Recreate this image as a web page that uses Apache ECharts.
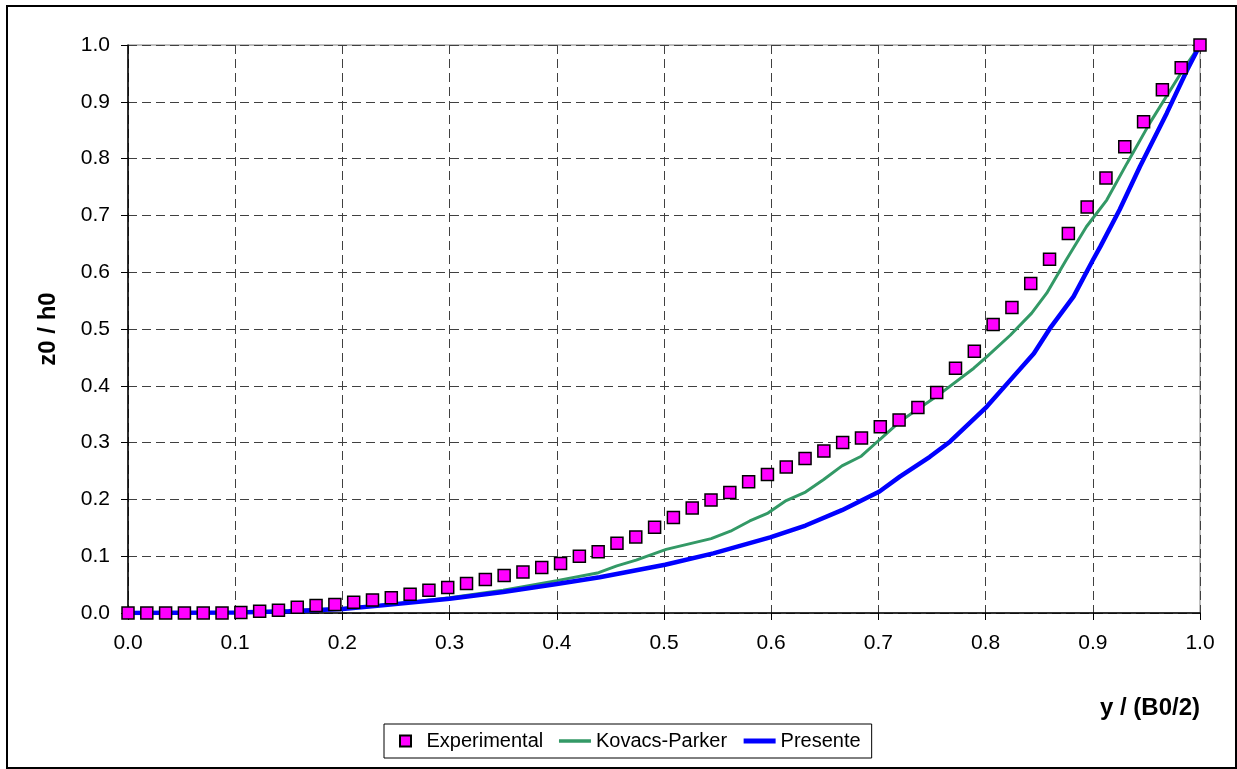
<!DOCTYPE html>
<html>
<head>
<meta charset="utf-8">
<title>z0 / h0 vs y / (B0/2)</title>
<script src="https://cdn.jsdelivr.net/npm/echarts@6/dist/echarts.min.js"></script>
<style>
  html, body { margin: 0; padding: 0; background: #fff; }
  #chart { width: 1237px; height: 769px; }
</style>
</head>
<body>
<div id="chart"></div>
<script>
// Experimental profile: 58 equally spaced stations across the half-width
const expPointCount = 58;
const expZ = [
  0.000, 0.000, 0.000, 0.000, 0.000, 0.000, 0.001, 0.003, 0.005, 0.010,
  0.013, 0.015, 0.019, 0.023, 0.027, 0.033, 0.040, 0.045, 0.052, 0.059,
  0.066, 0.072, 0.080, 0.087, 0.100, 0.108, 0.123, 0.134, 0.151, 0.168,
  0.185, 0.199, 0.212, 0.231, 0.244, 0.257, 0.272, 0.285, 0.300, 0.308,
  0.328, 0.340, 0.362, 0.388, 0.431, 0.461, 0.508, 0.538, 0.580, 0.623,
  0.668, 0.715, 0.766, 0.821, 0.865, 0.921, 0.960, 1.000
];

// Kovacs-Parker profile
const kpY = [0, 0.10, 0.15, 0.20, 0.25, 0.30, 0.35, 0.40, 0.439, 0.456, 0.474, 0.502, 0.544,
  0.562, 0.580, 0.597, 0.614, 0.632, 0.649, 0.666, 0.684, 0.701, 0.720, 0.754, 0.789,
  0.801, 0.823, 0.843, 0.857, 0.875, 0.894, 0.913, 0.932, 0.953, 0.983, 1.0];
const kpZ = [0, 0.001, 0.004, 0.008, 0.016, 0.027, 0.040, 0.057, 0.071, 0.083, 0.093, 0.112, 0.131,
  0.144, 0.162, 0.176, 0.198, 0.213, 0.235, 0.259, 0.276, 0.305, 0.337, 0.381, 0.431,
  0.451, 0.489, 0.528, 0.563, 0.621, 0.680, 0.727, 0.792, 0.862, 0.953, 1.0];

// Present model profile
const prY = [0, 0.10, 0.15, 0.20, 0.235, 0.30, 0.35, 0.40, 0.44, 0.501, 0.546, 0.599, 0.632,
  0.666, 0.701, 0.720, 0.748, 0.767, 0.801, 0.823, 0.845, 0.860, 0.882, 0.900, 0.907,
  0.925, 0.944, 0.969, 0.988, 1.0];
const prZ = [0, 0.001, 0.003, 0.007, 0.013, 0.025, 0.037, 0.051, 0.063, 0.085, 0.105, 0.133, 0.154,
  0.181, 0.214, 0.240, 0.275, 0.302, 0.363, 0.410, 0.457, 0.501, 0.557, 0.621, 0.645,
  0.710, 0.786, 0.880, 0.956, 1.0];

const seriesNames = ['Experimental', 'Kovacs-Parker', 'Presente'];
const xTitle = 'y / (B0/2)';
const yTitle = 'z0 / h0';

const zip = (xs, ys) => xs.map((x, i) => [x, ys[i]]);
const expData = expZ.map((z, i) => [i / (expPointCount - 1), z]);

const FONT = '"Liberation Sans", Arial, sans-serif';
const gridLine = { show: true, lineStyle: { color: '#404040', width: 1, type: [9, 5] } };
const squareIcon = 'path://M0,0H10V10H0Z';
// legend entries of the line series show the stroke only
const hiddenMarker = { opacity: 0 };

const chart = echarts.init(document.getElementById('chart'), null, { renderer: 'canvas' });
chart.setOption({
  animation: false,
  backgroundColor: '#fff',
  grid: {
    left: 128, right: 37, top: 45, bottom: 156,
    show: true, borderColor: '#808080', borderWidth: 1, backgroundColor: 'transparent'
  },
  xAxis: {
    type: 'value', min: 0, max: 1, interval: 0.1,
    axisLine: { show: true, onZero: false, lineStyle: { color: '#000', width: 1.5 } },
    axisTick: { show: true, inside: false, length: 7, lineStyle: { color: '#000', width: 1 } },
    axisLabel: { margin: 20, fontSize: 21, color: '#000', fontFamily: FONT,
      formatter: v => v.toFixed(1) },
    splitLine: gridLine
  },
  yAxis: {
    type: 'value', min: 0, max: 1, interval: 0.1,
    name: yTitle, nameLocation: 'middle', nameGap: 68,
    nameTextStyle: { fontSize: 24, fontWeight: 'bold', color: '#000', fontFamily: FONT },
    axisLine: { show: true, onZero: false, lineStyle: { color: '#000', width: 1.5 } },
    axisTick: { show: true, inside: false, length: 7, lineStyle: { color: '#000', width: 1 } },
    axisLabel: { margin: 18, fontSize: 21, color: '#000', fontFamily: FONT,
      formatter: v => v.toFixed(1) },
    splitLine: gridLine
  },
  legend: {
    left: 384, top: 724,
    orient: 'horizontal',
    symbolKeepAspect: true,
    data: [
      { name: seriesNames[0], icon: squareIcon },
      { name: seriesNames[1], itemStyle: hiddenMarker, lineStyle: { width: 3.5, color: '#339966' } },
      { name: seriesNames[2], itemStyle: hiddenMarker, lineStyle: { width: 5, color: '#0000FF' } }
    ],
    itemWidth: 32, itemHeight: 11, itemGap: 14,
    padding: [7, 11, 7, 15],
    borderColor: '#000', borderWidth: 1, backgroundColor: '#fff',
    textStyle: { fontSize: 20, color: '#000', fontFamily: FONT }
  },
  graphic: [
    {
      type: 'rect', silent: true, z: 100,
      shape: { x: 7, y: 6, width: 1229, height: 762 },
      style: { fill: 'none', stroke: '#000', lineWidth: 2 }
    },
    {
      type: 'text', right: 37, top: 696, silent: true,
      style: { text: xTitle, fontSize: 24, fontWeight: 'bold', fill: '#000', fontFamily: FONT }
    }
  ],
  series: [
    {
      name: seriesNames[1], type: 'line', data: zip(kpY, kpZ),
      showSymbol: false, symbol: 'none', smooth: false, z: 2,
      lineStyle: { color: '#339966', width: 3 }, itemStyle: { color: '#339966' }
    },
    {
      name: seriesNames[2], type: 'line', data: zip(prY, prZ),
      showSymbol: false, symbol: 'none', smooth: false, z: 3,
      lineStyle: { color: '#0000FF', width: 4.5 }, itemStyle: { color: '#0000FF' }
    },
    {
      name: seriesNames[0], type: 'scatter', data: expData, z: 5,
      symbol: 'rect', symbolSize: 12,
      itemStyle: { color: '#FF00FF', borderColor: '#000', borderWidth: 1.5, opacity: 1 }
    }
  ]
});
</script>
</body>
</html>
